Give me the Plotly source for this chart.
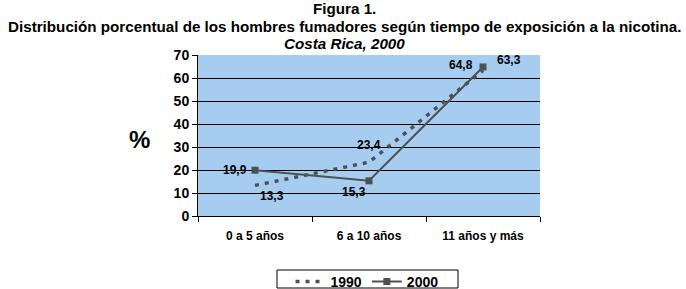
import plotly.graph_objects as go

categories = ["0 a 5 años", "6 a 10 años", "11 años y más"]
values_1990 = [13.3, 23.4, 63.3]
values_2000 = [19.9, 15.3, 64.8]
labels_1990 = ["13,3", "23,4", "63,3"]
labels_2000 = ["19,9", "15,3", "64,8"]
y_ticks = [0, 10, 20, 30, 40, 50, 60, 70]

FONT = "Liberation Sans, Arial, sans-serif"
LINE = "#4a5252"

W, H = 686, 289
L, R, T, B = 198, 540, 55, 216
pw, ph = R - L, B - T
def px(xp):
    return (xp - L) / pw
def py(yp):
    return (B - yp) / ph

fig = go.Figure()
fig.add_trace(go.Scatter(
    x=categories, y=values_1990, name="1990", mode="lines",
    line=dict(color=LINE, width=3.5, dash="4px,6px"),
    cliponaxis=False,
))
fig.add_trace(go.Scatter(
    x=categories, y=values_2000, name="2000", mode="lines+markers",
    line=dict(color=LINE, width=2),
    marker=dict(symbol="square", size=7, color=LINE),
    cliponaxis=False,
))

# data label offsets in pixels (style)
shifts_1990 = [(17, -11), (0, 17), (26, 10)]
shifts_2000 = [(-20, 0), (-15, -11), (-22, 2)]

label_anns = []
for cats, vals, labs, shifts in ((categories, values_1990, labels_1990, shifts_1990),
                                 (categories, values_2000, labels_2000, shifts_2000)):
    for c, v, t, (dx, dy) in zip(cats, vals, labs, shifts):
        label_anns.append(dict(
            x=c, y=v, xref="x", yref="y", text=t, showarrow=False,
            xanchor="center", yanchor="middle", xshift=dx, yshift=dy,
            font=dict(family=FONT, size=12, color="black", weight="bold")))

fig.update_layout(
    width=W, height=H,
    margin=dict(l=L, r=W - R, t=T, b=H - B, autoexpand=False),
    paper_bgcolor="white", plot_bgcolor="#a6cdf0",
    font=dict(family=FONT, color="black"),
    showlegend=True,
    legend=dict(orientation="h", x=px(367), xanchor="center",
                y=py(266), yanchor="top", bgcolor="rgba(0,0,0,0)",
                borderwidth=0,
                font=dict(family=FONT, size=14, color="black", weight="bold"),
                itemwidth=30, tracegroupgap=0),
    shapes=[dict(type="rect", xref="paper", yref="paper",
                 x0=px(277), x1=px(458), y0=py(270), y1=py(288),
                 line=dict(color="black", width=1), fillcolor="rgba(0,0,0,0)")],
    annotations=[
        dict(text="Figura 1.", x=px(344), y=py(9), xref="paper", yref="paper",
             xanchor="center", yanchor="middle", showarrow=False,
             font=dict(size=15.2, weight="bold")),
        dict(text="Distribución porcentual de los hombres fumadores según tiempo de exposición a la nicotina.",
             x=px(344), y=py(26), xref="paper", yref="paper", xanchor="center",
             yanchor="middle", showarrow=False, font=dict(size=15.2, weight="bold")),
        dict(text="<i>Costa Rica, 2000</i>", x=px(344), y=py(43), xref="paper",
             yref="paper", xanchor="center", yanchor="middle", showarrow=False,
             font=dict(size=15.2, weight="bold")),
        dict(text="%", x=px(139), y=py(139), xref="paper", yref="paper",
             xanchor="center", yanchor="middle", showarrow=False,
             font=dict(size=24, weight="bold")),
    ] + label_anns,
)

fig.update_xaxes(
    showgrid=False, showline=True, linecolor="black", linewidth=1,
    ticks="outside", ticklen=5, tickcolor="black", tickson="boundaries",
    tickfont=dict(family=FONT, size=12, color="black", weight="bold"),
    ticklabelstandoff=9,
    range=[-0.5, 2.5], zeroline=False,
)
fig.update_yaxes(
    range=[0, 70], tickvals=y_ticks, showgrid=True, gridcolor="black",
    gridwidth=1, showline=True, linecolor="black", linewidth=1,
    ticks="outside", ticklen=5, tickcolor="black",
    tickfont=dict(family=FONT, size=14, color="black", weight="bold"),
    zeroline=False,
)

fig.write_html("out.html", config={"displayModeBar": False},
               post_script="document.body.style.margin='0';document.body.style.overflow='hidden';")
